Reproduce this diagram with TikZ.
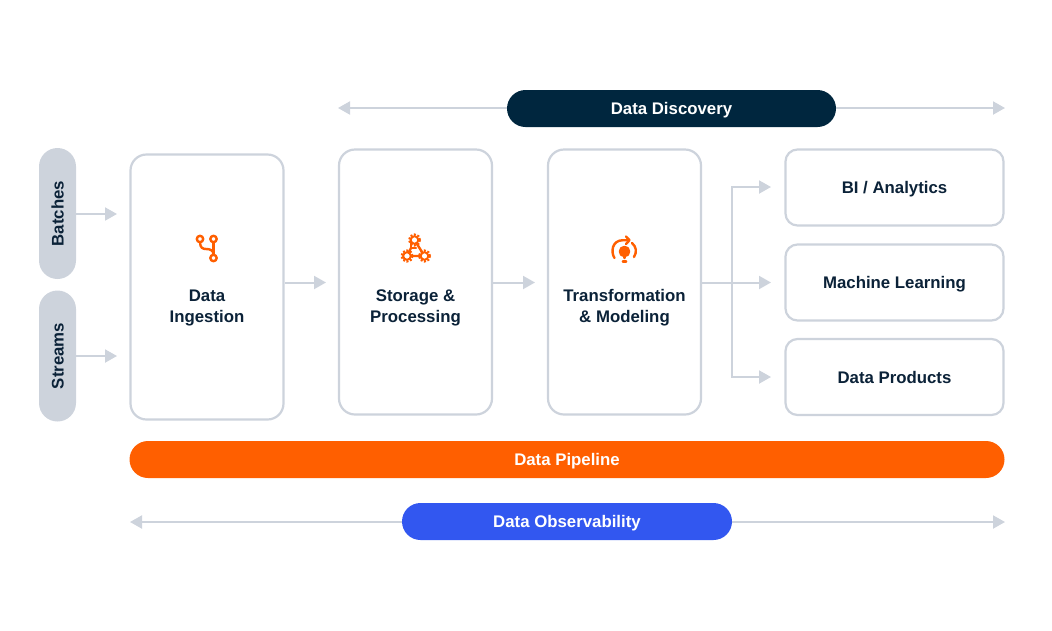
\documentclass[tikz,border=0pt]{standalone}
\usepackage{fontspec}
\setmainfont{Liberation Sans}
\usetikzlibrary{arrows.meta,calc,positioning}
\definecolor{linegrey}{HTML}{CDD3DC}
\definecolor{inknavy}{HTML}{0B2238}
\definecolor{pillnavy}{HTML}{00263E}
\definecolor{pipeorange}{HTML}{FF5F00}
\definecolor{obsblue}{HTML}{3257F0}
\tikzset{%
	labeltext/.style= {font=\fontsize{16.8}{21}\selectfont\bfseries, text height=12pt, text depth=0pt},
	stage/.style    = {draw=linegrey, line width=2.2pt, fill=white, rounded corners=16pt, minimum width=153pt, minimum height=265pt, inner sep=0pt},
	stagetext/.style= {font=\fontsize{16.8}{21}\selectfont\bfseries, align=center, text=inknavy, inner sep=0pt},
	target/.style   = {draw=linegrey, line width=2.2pt, fill=white, rounded corners=12pt, minimum width=218pt, minimum height=76pt, text=inknavy, labeltext, inner sep=0pt},
	source/.style   = {fill=linegrey, rounded corners=18.5pt, minimum width=131pt, minimum height=37pt, rotate=90, text=inknavy, labeltext, inner sep=0pt},
	band/.style     = {rounded corners=18.5pt, minimum height=37pt, text=white, labeltext, inner sep=0pt},
	arrow/.style    = {draw=linegrey, line width=2pt, -{Triangle[length=12pt,width=13pt,fill=linegrey]}},
	iconline/.style = {draw=pipeorange, line width=2.4pt, line cap=round, line join=round},
	gear/.style     = {draw=pipeorange, fill=white, line width=2pt},
	gearteeth/.style= {draw=pipeorange, line width=2pt, dash pattern=on 2pt off 1.6pt},
}
\newcommand{\geardraw}[1]{%
	\draw[gearteeth] (#1) circle (5.6pt);
	\draw[gear] (#1) circle (3.8pt);
}
\begin{document}
\begin{tikzpicture}[x=1pt,y=-1pt]
	\useasboundingbox (0,0) rectangle (1052,630);
	
	\node[source] (batches) at (57.5,213.5) {Batches};
	\node[source] (streams) at (57.5,356) {Streams};
	
	\node[stage] (ingest) at (207,287) {};
	\node[stage] (store) at (415.5,282) {};
	\node[stage] (model) at (624.5,282) {};
	\node[stagetext] (ingesttext) at (207,307.5) {Data\\Ingestion};
	\node[stagetext] (storetext) at (415.5,307.5) {Storage \&\\Processing};
	\node[stagetext] (modeltext) at (624.5,307.5) {Transformation\\\& Modeling};
	
	\node[target] (bi) at (894.5,187.5) {BI / Analytics};
	\node[target] (ml) at (894.5,282.5) {Machine Learning};
	\node[target] (products) at (894.5,377) {Data Products};
	
	\node[band,fill=pillnavy,minimum width=329pt] (discovery) at (671.5,108.5) {Data Discovery};
	\node[band,fill=pipeorange,minimum width=875pt] (pipeline) at (567,459.5) {Data Pipeline};
	\node[band,fill=obsblue,minimum width=330pt] (observe) at (567,521.5) {Data Observability};
	
	% free ends of the arrows
	\coordinate (batchend) at (117,214);
	\coordinate (streamend) at (117,356);
	\coordinate (ingestend) at (326,282.5);
	\coordinate (storeend) at (535,282.5);
	\coordinate (branch) at (732,282.5);
	\coordinate (biend) at (771,187);
	\coordinate (mlend) at (771,282.5);
	\coordinate (productsend) at (771,377);
	\coordinate (discleft) at (338,108);
	\coordinate (discright) at (1005,108);
	\coordinate (obsleft) at (130,522);
	\coordinate (obsright) at (1005,522);
	
	\draw[arrow] (batches.south |- batchend) -- (batchend);
	\draw[arrow] (streams.south |- streamend) -- (streamend);
	\draw[arrow] (ingest.east |- ingestend) -- (ingestend);
	\draw[arrow] (store.east |- storeend) -- (storeend);
	\draw[arrow] (model.east |- mlend) -- (mlend);
	\draw[arrow] (branch) |- (biend);
	\draw[arrow] (branch) |- (productsend);
	\draw[arrow] (discovery.west |- discleft) -- (discleft);
	\draw[arrow] (discovery.east |- discright) -- (discright);
	\draw[arrow] (observe.west |- obsleft) -- (obsleft);
	\draw[arrow] (observe.east |- obsright) -- (obsright);
	
	% ingestion icon
	\draw[iconline] (213.5,242) -- (213.5,255);
	\draw[iconline] (200,242) .. controls (200,248) and (203,249) .. (206,249) .. controls (210,249) and (213.5,250) .. (213.5,255);
	\foreach \p in {(200,239),(213.5,239),(213.5,258)} \draw[iconline,fill=white] \p circle (3.2pt);
	
	% storage icon
	\draw[iconline] (414.5,240) -- (424.5,256) -- (407,256) -- (411,248);
	\draw[iconline] (411,240) -- (411,248) -- (416,248);
	\geardraw{414.5,240}
	\geardraw{407,256}
	\geardraw{424.5,256}
	
	% modeling icon
	\draw[iconline,fill=pipeorange] (624.5,251.5) circle (4.6pt);
	\draw[iconline] (624.5,256) -- (624.5,258);
	\draw[iconline] (622.8,261.5) -- (626.2,261.5);
	\draw[iconline] (614.5,258) .. controls (610.5,252) and (612,240.2) .. (623,240.2) -- (629,240.2);
	\draw[iconline] (626,236.5) -- (629.5,240.2) -- (626,244);
	\draw[iconline] (632,243) .. controls (636.5,247) and (637,252) .. (634,257);
\end{tikzpicture}
\end{document}
